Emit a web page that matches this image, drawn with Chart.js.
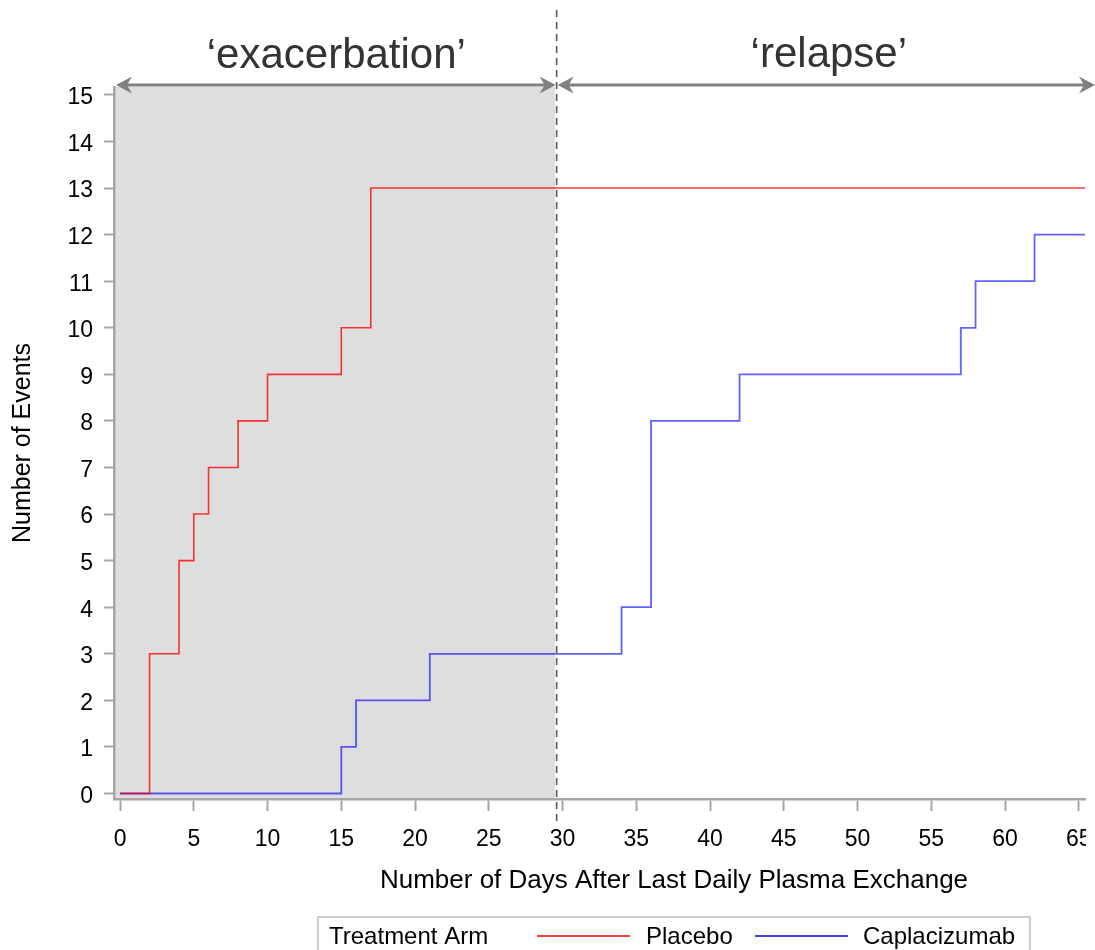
<!DOCTYPE html>
<html>
<head>
<meta charset="utf-8">
<script src="https://cdn.jsdelivr.net/npm/chart.js@4/dist/chart.umd.min.js"></script>
<style>
html,body{margin:0;padding:0;background:#fff;overflow:hidden}
#wrap{position:relative;width:1095px;height:950px}
</style>
</head>
<body>
<div id="wrap"><canvas id="c" width="1095" height="950"></canvas></div>
<script>
// ---- data ----
const xTicks = [0, 5, 10, 15, 20, 25, 30, 35, 40, 45, 50, 55, 60, 65];
const yTicks = [0, 1, 2, 3, 4, 5, 6, 7, 8, 9, 10, 11, 12, 13, 14, 15];
const placeboDays   = [0, 2, 4, 5, 6, 8, 10, 15, 17, 65.42];
const placeboEvents = [0, 3, 5, 6, 7, 8, 9, 10, 13, 13];
const caplaDays     = [0, 15, 16, 21, 34, 36, 42, 57, 58, 62, 65.42];
const caplaEvents   = [0, 1, 2, 3, 4, 8, 9, 10, 11, 12, 12];
const seriesNames = ['Placebo', 'Caplacizumab'];
const legendTitle = 'Treatment Arm';
const phaseLabels = ['\u2018exacerbation\u2019', '\u2018relapse\u2019'];
const phaseBoundary = 29.6;
const shadedEnd = 29.5;
const xTitle = 'Number of Days After Last Daily Plasma Exchange';
const yTitle = 'Number of Events';

// ---- styles ----
const FONT = '"Liberation Sans", Arial, sans-serif';
const AXIS = '#a6a6a6';
const RED = 'rgba(255,0,0,0.78)';
const BLUE = 'rgba(0,0,255,0.62)';

const toPts = (xs, ys) => xs.map((x, i) => ({x: x, y: ys[i]}));

function arrowHead(ctx, tipX, y, dir) {
  const L = 16, H = 8.5, N = 11;
  ctx.beginPath();
  ctx.moveTo(tipX, y);
  ctx.lineTo(tipX - dir * L, y - H);
  ctx.lineTo(tipX - dir * N, y);
  ctx.lineTo(tipX - dir * L, y + H);
  ctx.closePath();
  ctx.fill();
}
function doubleArrow(ctx, x0, x1, y) {
  ctx.beginPath();
  ctx.moveTo(x0 + 8, y);
  ctx.lineTo(x1 - 8, y);
  ctx.stroke();
  arrowHead(ctx, x0, y, -1);
  arrowHead(ctx, x1, y, 1);
}

const decor = {
  id: 'decor',
  beforeDraw(chart) {
    const {ctx, chartArea: ca, scales: {x}} = chart;
    ctx.save();
    ctx.fillStyle = '#dedede';
    const x1 = x.getPixelForValue(shadedEnd);
    ctx.fillRect(ca.left, ca.top, x1 - ca.left, ca.bottom - ca.top);
    ctx.restore();
  },
  afterDraw(chart) {
    const {ctx, chartArea: ca, scales: {x}} = chart;
    const W = chart.width;
    ctx.save();
    // figure is cropped at the plot's right edge
    ctx.fillStyle = '#fff';
    ctx.fillRect(ca.right + 1, 0, W - ca.right, chart.height);

    // dashed boundary
    const xb = x.getPixelForValue(phaseBoundary);
    ctx.strokeStyle = '#5a5a5a';
    ctx.lineWidth = 1.6;
    ctx.setLineDash([7, 5]);
    ctx.beginPath();
    ctx.moveTo(xb, 10);
    ctx.lineTo(xb, 826);
    ctx.stroke();
    ctx.setLineDash([]);

    // arrows
    const ay = ca.top - 2;
    ctx.strokeStyle = '#808080';
    ctx.fillStyle = '#808080';
    ctx.lineWidth = 3;
    doubleArrow(ctx, ca.left + 2, xb - 1, ay);
    doubleArrow(ctx, xb + 1, W, ay);

    // phase labels
    ctx.fillStyle = '#333';
    ctx.font = '42px ' + FONT;
    ctx.textAlign = 'center';
    ctx.textBaseline = 'alphabetic';
    ctx.fillText(phaseLabels[0], (ca.left + 2 + xb) / 2, 68);
    ctx.fillText(phaseLabels[1], (xb + W) / 2 + 3, 67);

    // x axis title (centered on original figure)
    const cx = 674;
    ctx.fillStyle = '#000';
    ctx.font = '26px ' + FONT;
    ctx.textBaseline = 'middle';
    ctx.fillText(xTitle, cx, 881);

    // legend
    ctx.strokeStyle = '#cfcfcf';
    ctx.lineWidth = 2;
    ctx.strokeRect(318, 917, 712, 60);
    ctx.font = '24px ' + FONT;
    ctx.textAlign = 'left';
    ctx.textBaseline = 'alphabetic';
    ctx.fillStyle = '#000';
    ctx.fillText(legendTitle, 329, 944);
    const ly = 936;
    const items = [[537, 630, 646, 'rgb(230,0,0)', seriesNames[0]], [755, 848, 863, 'rgb(0,0,220)', seriesNames[1]]];
    items.forEach(([a, b, t, col, name]) => {
      ctx.strokeStyle = col;
      ctx.lineWidth = 1.5;
      ctx.beginPath();
      ctx.moveTo(a, ly);
      ctx.lineTo(b, ly);
      ctx.stroke();
      ctx.fillStyle = '#000';
      ctx.fillText(name, t, 944);
    });
    ctx.restore();
  }
};

new Chart(document.getElementById('c'), {
  type: 'line',
  data: {
    datasets: [
      {label: seriesNames[0], data: toPts(placeboDays, placeboEvents), borderColor: RED, borderWidth: 1.6, stepped: true, pointRadius: 0, fill: false, tension: 0},
      {label: seriesNames[1], data: toPts(caplaDays, caplaEvents), borderColor: BLUE, borderWidth: 1.8, stepped: true, pointRadius: 0, fill: false, tension: 0}
    ]
  },
  options: {
    responsive: false,
    animation: false,
    devicePixelRatio: 1,
    layout: {padding: {left: 0, top: 87, right: 10, bottom: 51}},
    plugins: {legend: {display: false}, tooltip: {enabled: false}},
    scales: {
      x: {
        type: 'linear',
        min: -0.41,
        max: 65.42,
        afterBuildTicks: s => { s.ticks = xTicks.map(v => ({value: v})); },
        afterFit: s => { s.height = 100; s.paddingLeft = 0; s.paddingRight = 0; },
        ticks: {font: {family: FONT, size: 23}, color: '#000', padding: 15, maxRotation: 0, autoSkip: false},
        grid: {display: true, drawOnChartArea: false, drawTicks: true, tickLength: 12, tickWidth: 2, tickColor: AXIS, color: AXIS},
        border: {display: true, color: AXIS, width: 2.5},
        title: {display: false}
      },
      y: {
        type: 'linear',
        min: -0.118,
        max: 15.17,
        afterBuildTicks: s => { s.ticks = yTicks.map(v => ({value: v})); },
        afterFit: s => { s.width = 114; s.paddingTop = 0; s.paddingBottom = 0; },
        ticks: {font: {family: FONT, size: 23}, color: '#000', padding: 11, labelOffset: 3, autoSkip: false},
        grid: {display: true, drawOnChartArea: false, drawTicks: true, tickLength: 10, tickWidth: 2, tickColor: AXIS, color: AXIS},
        border: {display: true, color: AXIS, width: 2.5},
        title: {display: true, text: yTitle, font: {family: FONT, size: 25}, color: '#000', padding: {top: 8, bottom: 0}}
      }
    }
  },
  plugins: [decor]
});
</script>
</body>
</html>
